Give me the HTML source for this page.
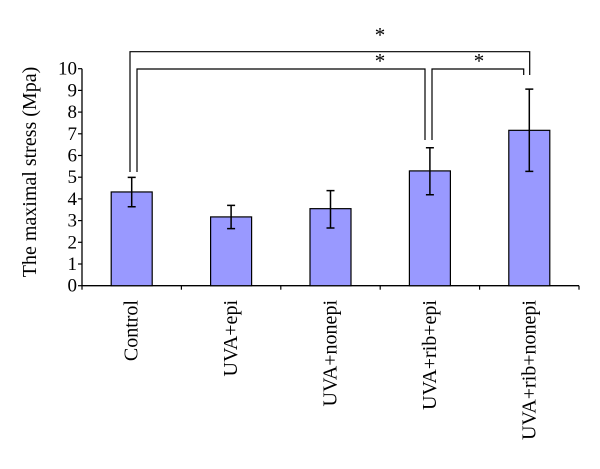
<!DOCTYPE html>
<html><head><meta charset="utf-8"><style>
body{margin:0;background:#fff}
svg text{font-family:"Liberation Serif",serif;fill:#000}
</style></head><body>
<svg width="600" height="464">
<g id="g"></g>
</svg>
<script>
const categories=["Control","UVA+epi","UVA+nonepi","UVA+rib+epi","UVA+rib+nonepi"];
const means=[4.32,3.17,3.55,5.29,7.16];
const errHigh=[4.99,3.70,4.38,6.36,9.06];
const errLow=[3.64,2.63,2.66,4.19,5.27];
const yTicks=[0,1,2,3,4,5,6,7,8,9,10];
const NS="http://www.w3.org/2000/svg";
const g=document.getElementById("g");
const X0=82,X1=579,Y0=285.7,Y10=68.7;
const y=v=>Y0-(Y0-Y10)*v/10;
const bw=(X1-X0)/categories.length;
const xc=i=>X0+bw*(i+0.5);
function el(t,a,p){const e=document.createElementNS(NS,t);for(const k in a)e.setAttribute(k,a[k]);(p||g).appendChild(e);return e;}
const axis=el("path",{d:`M${X0},${Y10}V${Y0}H${X1}`,stroke:"#000","stroke-width":1.3,fill:"none"});


yTicks.forEach(v=>{
 const t=el("line",{x1:X0-4,x2:X0,y1:y(v),y2:y(v),stroke:"#000","stroke-width":1.2});
 
 
 const l=el("text",{x:X0-5,y:y(v)+6,"text-anchor":"end","font-size":19});
 l.textContent=v;
 
 
});
for(let i=0;i<=categories.length;i++){
 const t=el("line",{x1:X0+bw*i,x2:X0+bw*i,y1:Y0,y2:Y0+4,stroke:"#000","stroke-width":1.2});
 
 
}
categories.forEach((c,i)=>{
 const cx=xc(i);
 const b=el("rect",{x:cx-20.5,y:y(means[i]),width:41,height:Y0-y(means[i]),fill:"#9999ff",stroke:"#000","stroke-width":1.2});
 
 
 const e=el("path",{d:`M${cx},${y(errHigh[i])}V${y(errLow[i])}M${cx-4},${y(errHigh[i])}h8M${cx-4},${y(errLow[i])}h8`,stroke:"#000","stroke-width":1.5,fill:"none"});
 
 
 const l=el("text",{transform:`translate(${cx+6},300) rotate(-90)`,"text-anchor":"end","font-size":20});
 l.textContent=c;
 
 
});
const yl=el("text",{transform:"translate(36,172) rotate(-90)","text-anchor":"middle","font-size":20});
yl.textContent="The maximal stress (Mpa)";


const br=[
 `M130,172V51.7H529.7V75`,
 `M137,172V69H425V140`,
 `M432,140V69H523.7V75`
];
br.forEach(d=>{const p=el("path",{d,stroke:"#000","stroke-width":1.2,fill:"none"});
 
 });
[[380,46],[380,72],[479,72]].forEach(([sx,sy])=>{
 const s=el("text",{x:sx,y:sy-4,"text-anchor":"middle","font-size":21});
 s.textContent="*";
 
 
});
</script>
</body></html>
